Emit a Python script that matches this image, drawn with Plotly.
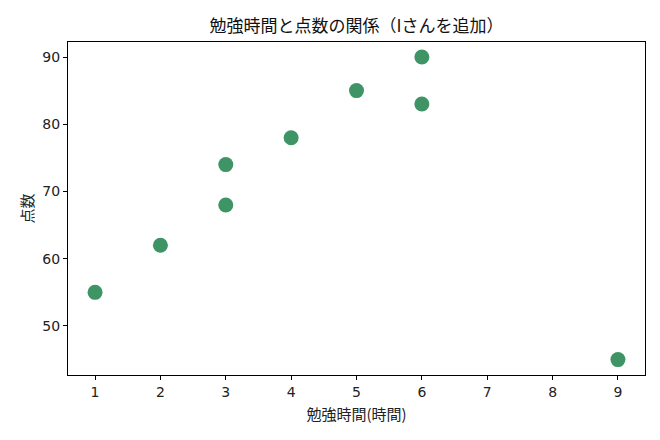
import plotly.graph_objects as go

# 勉強時間と点数（Iさんを追加）
study_hours = [1, 2, 3, 3, 4, 5, 6, 6, 9]
scores = [55, 62, 68, 74, 78, 85, 83, 90, 45]

x_ticks = [1, 2, 3, 4, 5, 6, 7, 8, 9]
y_ticks = [50, 60, 70, 80, 90]

font_family = "Noto Sans CJK JP, DejaVu Sans, sans-serif"

fig = go.Figure()

fig.add_trace(go.Scatter(
    x=study_hours,
    y=scores,
    mode='markers',
    marker=dict(size=15, color='#2e8b57', opacity=0.92, line=dict(width=0)),
))

axis_common = dict(
    showline=True, linecolor='black', linewidth=1, mirror=True,
    ticks='outside', ticklen=4, tickcolor='black', tickwidth=1,
    showgrid=False, zeroline=False,
    tickfont=dict(size=14, color='#222222', family="DejaVu Sans"),
)

# the page adds ~8px body margin, so the figure is a bit smaller
fig.update_layout(
    width=652, height=432,
    paper_bgcolor='white', plot_bgcolor='white',
    margin=dict(l=60, r=15, t=34, b=65),
    font=dict(family=font_family, color='#222222'),
    title=dict(text='勉強時間と点数の関係（Iさんを追加）', xref='paper', x=0.5, xanchor='center',
               yref='container', y=0.958, yanchor='middle', font=dict(size=17, color='#111111')),
    xaxis=dict(title=dict(text='勉強時間(時間)', font=dict(size=15), standoff=10),
               range=[0.586, 9.414], tickvals=x_ticks, **axis_common),
    yaxis=dict(title=dict(text='点数', font=dict(size=15), standoff=5),
               range=[42.71, 92.23], tickvals=y_ticks, **axis_common),
    showlegend=False,
)

fig.write_html("out.html")
